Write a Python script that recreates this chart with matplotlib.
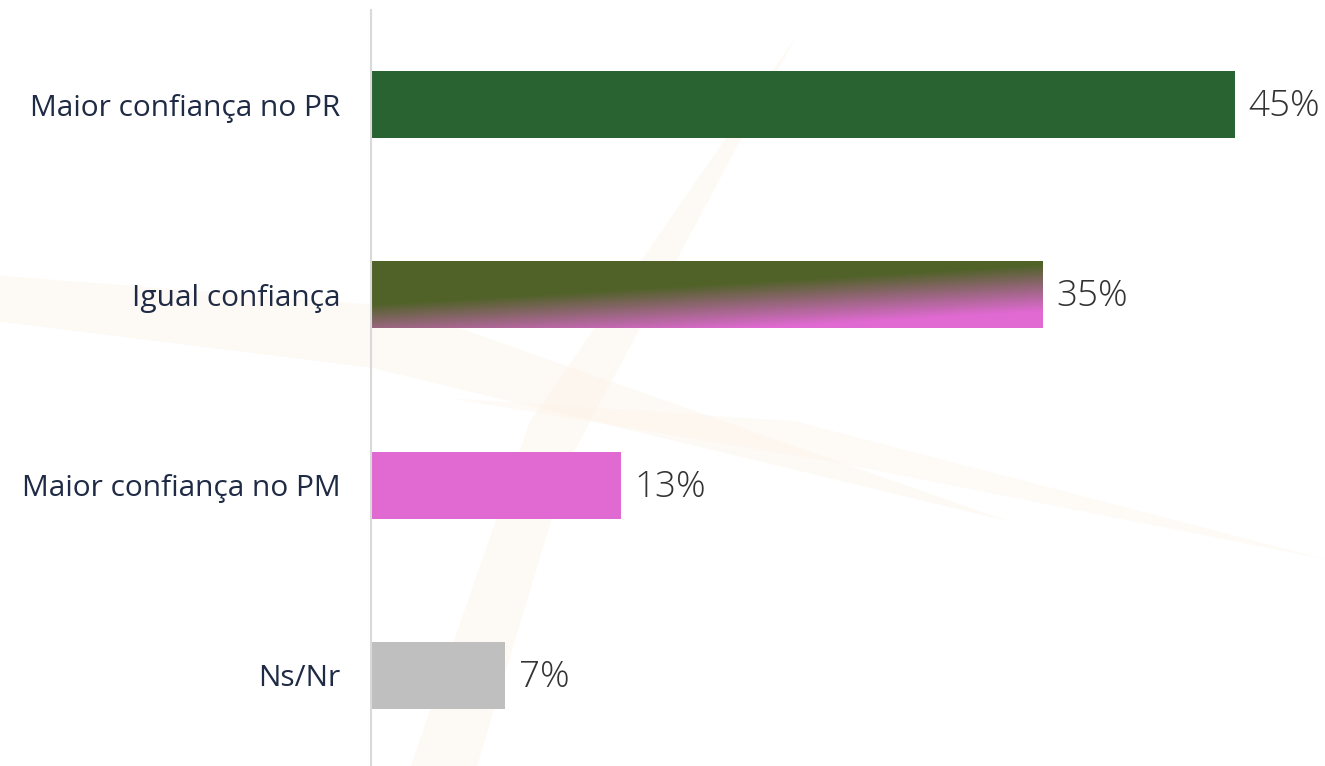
import numpy as np
import matplotlib.pyplot as plt
from matplotlib.colors import to_rgb
from matplotlib.patches import Polygon

# --- data ---
categories = ["Maior confiança no PR", "Igual confiança", "Maior confiança no PM", "Ns/Nr"]
values = [45, 35, 13, 7]
labels = ["45%", "35%", "13%", "7%"]

green = "#2A6332"
olive = "#506228"
pink = "#E06AD2"
grey = "#BFBFBF"
colors = [green, None, pink, grey]

plt.rcParams['font.family'] = ['Open Sans', 'DejaVu Sans']

fig = plt.figure(figsize=(13.25, 7.66), dpi=100)

# faint watermark shapes in the background
wm = fig.add_axes([0, 0, 1, 1], zorder=0)
wm.set_xlim(0, 1)
wm.set_ylim(0, 1)
wm.axis('off')
wm_color = "#FDF5EA"
wm.add_patch(Polygon([(0.0, 0.64), (0.30, 0.60), (0.76, 0.32), (0.28, 0.52), (0.0, 0.58)], closed=True,
                     color=wm_color, alpha=0.5, lw=0))
wm.add_patch(Polygon([(0.31, 0.0), (0.40, 0.45), (0.60, 0.95), (0.43, 0.40), (0.36, 0.0)], closed=True,
                     color=wm_color, alpha=0.5, lw=0))
wm.add_patch(Polygon([(0.34, 0.48), (0.60, 0.45), (1.0, 0.27), (0.62, 0.40)], closed=True,
                     color=wm_color, alpha=0.4, lw=0))

ax = fig.add_axes([371 / 1325, 0, 1 - 371 / 1325, 1 - 10 / 766], zorder=1)
ax.patch.set_alpha(0)

y = np.arange(len(categories))
bar_h = 0.352

for i, (v, c) in enumerate(zip(values, colors)):
    if c is not None:
        ax.barh(y[i], v, height=bar_h, color=c, zorder=2)
    else:
        # diagonal olive -> pink gradient bar
        nu, nv = 400, 80
        u = np.linspace(0, 1, nu)[None, :]
        vv = np.linspace(0, 1, nv)[:, None]
        v0 = 1.0 - 0.6 * u
        t = np.clip((vv - v0) / 0.7 + 0.5, 0, 1)[..., None]
        img = (1 - t) * np.array(to_rgb(olive)) + t * np.array(to_rgb(pink))
        ax.imshow(img, extent=(0, v, y[i] + bar_h / 2, y[i] - bar_h / 2),
                  origin='upper', aspect='auto', zorder=2, interpolation='bilinear')
    ax.text(v + 0.7, y[i] + 0.01, labels[i], va='center', ha='left', fontsize=26.5,
            color="#333333", fontweight='light')

scale = 864 / 45  # px per percent
ax.set_xlim(0, (1325 - 371) / scale)
ax.set_ylim(3.476, -0.497)

ax.set_yticks(y)
ax.set_yticklabels(categories, fontsize=21.5, color="#1F2A44")
ax.tick_params(axis='y', length=0, pad=22)
ax.set_xticks([])
for s in ['top', 'right', 'bottom']:
    ax.spines[s].set_visible(False)
ax.spines['left'].set_color("#D9D9D9")
ax.spines['left'].set_linewidth(1.5)

fig.savefig("out.png", dpi=100, facecolor='white')
